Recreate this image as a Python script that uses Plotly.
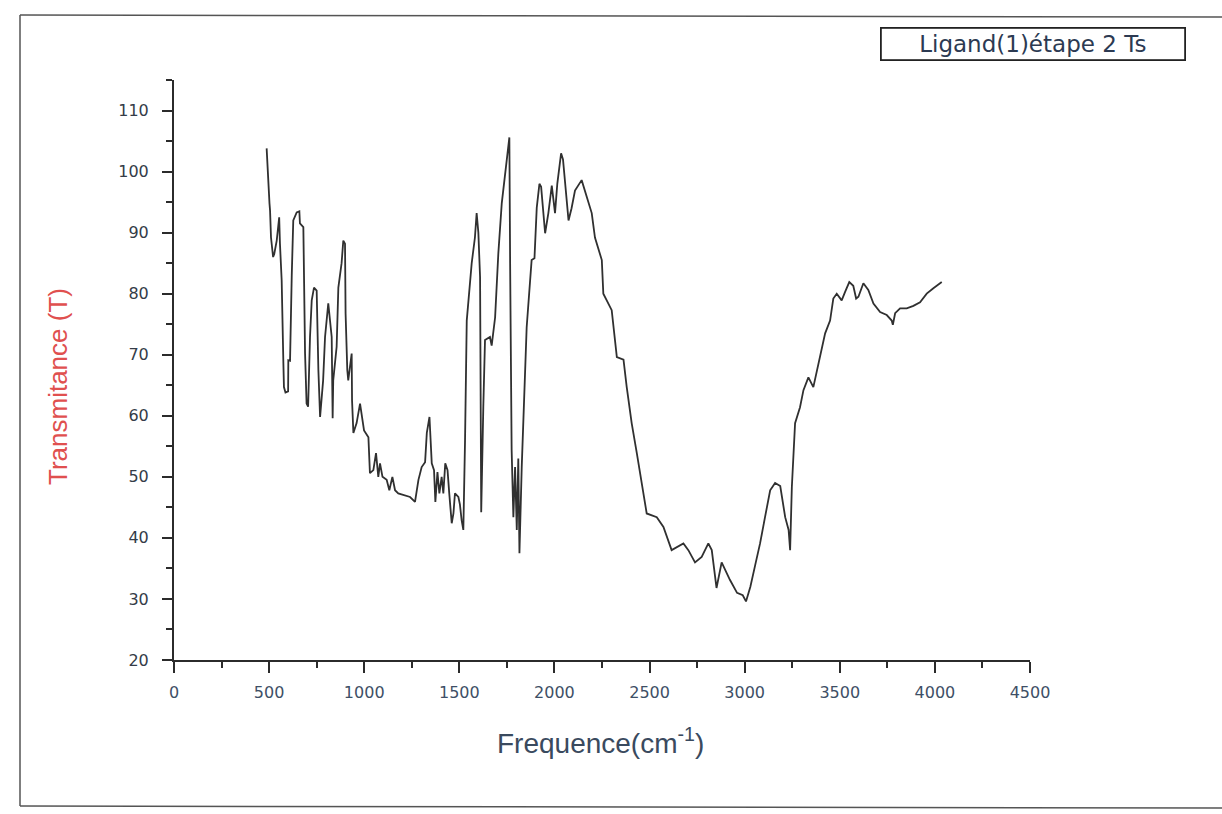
import plotly.graph_objects as go

# IR spectrum: wavenumber (cm-1) vs transmittance (%)
wavenumber = [
    487, 495, 502, 505, 510, 521, 527, 540, 553, 557, 566, 575, 578, 586, 600, 601, 610, 619, 627,
    645, 659, 662, 680, 684, 689, 697, 705, 715, 724, 736, 750, 759, 768, 784, 794, 811, 820, 829,
    834, 837, 855, 864, 881, 890, 899, 902, 911, 916, 934, 936, 943, 960, 978, 987, 999, 1022, 1025,
    1030, 1048, 1062, 1074, 1083, 1096, 1118, 1132, 1148, 1162, 1179, 1241, 1267, 1285, 1302, 1320,
    1329, 1343, 1350, 1355, 1367, 1374, 1385, 1395, 1407, 1416, 1426, 1438, 1447, 1460, 1469, 1477,
    1495, 1503, 1512, 1521, 1530, 1539, 1565, 1582, 1591, 1600, 1609, 1612, 1615, 1626, 1635, 1661,
    1670, 1688, 1705, 1723, 1740, 1749, 1763, 1767, 1771, 1775, 1784, 1793, 1802, 1810, 1816, 1828,
    1854, 1872, 1880, 1895, 1907, 1921, 1930, 1951, 1968, 1986, 2003, 2015, 2035, 2045, 2065, 2074,
    2090, 2108, 2143, 2170, 2196, 2213, 2249, 2257, 2301, 2328, 2363, 2380, 2406, 2433, 2459, 2485,
    2538, 2573, 2616, 2678, 2704, 2739, 2774, 2809, 2827, 2844, 2852, 2879, 2906, 2923, 2960, 2990,
    3007, 3030, 3055, 3081, 3107, 3134, 3160, 3187, 3213, 3231, 3239, 3244, 3248, 3265, 3291, 3309,
    3335, 3361, 3388, 3405, 3423, 3449, 3466, 3484, 3510, 3528, 3550, 3571, 3586, 3598, 3624, 3650,
    3677, 3712, 3747, 3773, 3779, 3791, 3817, 3852, 3887, 3922, 3957, 3992, 4036,
]
transmittance = [
    103.8, 97.7, 94.8, 93.6, 89.2, 86.0, 86.5, 88.7, 92.5, 88.2, 82.2, 68.6, 64.7, 63.8, 64.0, 69.1,
    69.0, 83.0, 92.0, 93.3, 93.5, 91.5, 90.9, 81.7, 70.2, 62.0, 61.5, 72.9, 78.9, 81.0, 80.5, 67.5,
    59.8, 65.8, 72.9, 78.4, 75.9, 72.9, 59.6, 65.8, 71.3, 81.0, 85.0, 88.7, 88.2, 76.8, 67.5, 65.8,
    70.2, 62.5, 57.2, 58.8, 62.0, 59.8, 57.6, 56.5, 52.2, 50.6, 51.1, 53.9, 50.0, 52.2, 50.0, 49.5,
    47.8, 50.0, 47.8, 47.3, 46.7, 45.9, 49.5, 51.6, 52.4, 57.2, 59.8, 55.5, 52.2, 51.1, 45.9, 50.8,
    47.3, 50.0, 47.3, 52.2, 51.1, 47.3, 42.4, 44.0, 47.3, 46.7, 45.5, 42.9, 41.3, 56.0, 75.6, 85.0,
    89.2, 93.2, 90.0, 82.7, 56.0, 44.2, 61.4, 72.4, 72.9, 71.5, 76.1, 86.6, 94.8, 99.0, 101.8, 105.6,
    85.0, 62.6, 54.4, 43.4, 51.6, 41.3, 53.0, 37.5, 51.6, 74.5, 82.7, 85.5, 85.8, 94.1, 98.0, 97.5,
    89.9, 93.2, 97.7, 93.2, 98.0, 103.0, 102.0, 95.8, 92.0, 94.0, 96.9, 98.6, 95.8, 93.2, 89.2, 85.5,
    80.0, 77.3, 69.6, 69.2, 64.7, 58.8, 53.9, 49.0, 44.0, 43.4, 41.8, 38.0, 39.1, 38.0, 36.0, 36.9,
    39.1, 38.0, 33.1, 31.8, 36.0, 34.2, 33.1, 31.0, 30.6, 29.6, 32.0, 35.5, 39.1, 43.4, 47.8, 49.0,
    48.5, 43.4, 41.3, 38.0, 43.0, 48.3, 58.8, 61.4, 64.2, 66.3, 64.7, 68.6, 70.7, 73.5, 75.6, 79.2,
    80.0, 78.9, 80.3, 81.9, 81.3, 79.2, 79.5, 81.7, 80.6, 78.4, 77.0, 76.5, 75.6, 74.9, 76.8, 77.6,
    77.6, 78.0, 78.6, 80.0, 80.9, 81.9,
]

x_ticks = [0, 500, 1000, 1500, 2000, 2500, 3000, 3500, 4000, 4500]
y_ticks = [20, 30, 40, 50, 60, 70, 80, 90, 100, 110]
series_name = "Ligand(1)étape 2 Ts"

axis_color = "#2b2b2b"
tick_font = "DejaVu Sans, Verdana, sans-serif"

# plot area in pixels: x 174..1030, y 80..660
L, R, T, B = 174, 1030, 80, 660
W, H = R - L, B - T


def px_to_paper(px, py):
    return (px - L) / W, (B - py) / H


fig = go.Figure()
fig.add_trace(go.Scatter(
    x=wavenumber, y=transmittance, mode="lines",
    line=dict(color="#303030", width=1.8),
    name=series_name, showlegend=False,
))

fig.update_layout(
    width=1222, height=814,
    margin=dict(l=L, r=1222 - R, t=T, b=814 - B),
    paper_bgcolor="white", plot_bgcolor="white",
    font=dict(family="Liberation Sans, Arial, sans-serif", color="#3a4656"),
    showlegend=False,
)

fig.update_xaxes(
    range=[0, 4500], tickvals=x_ticks, ticktext=[str(v) for v in x_ticks],
    showgrid=False, zeroline=False, showline=True, linecolor=axis_color, linewidth=2,
    ticks="outside", ticklen=11, tickwidth=1.8, tickcolor=axis_color,
    ticklabelstandoff=6,
    tickfont=dict(size=16, color="#3e4f66", family=tick_font),
    minor=dict(ticks="outside", dtick=250, tick0=0, ticklen=6, tickwidth=1.8, tickcolor=axis_color),
)
fig.update_yaxes(
    range=[20, 115], tickvals=y_ticks, ticktext=[str(v) for v in y_ticks],
    showgrid=False, zeroline=False, showline=True, linecolor=axis_color, linewidth=2,
    ticks="outside", ticklen=10, tickwidth=1.8, tickcolor=axis_color,
    ticklabelstandoff=10,
    tickfont=dict(size=16, color="#343c48", family=tick_font),
    minor=dict(ticks="outside", dtick=5, tick0=0, ticklen=6, tickwidth=1.8, tickcolor=axis_color),
)

# Axis titles
tx, ty = px_to_paper(600, 741)
fig.add_annotation(
    text="Frequence(cm<sup>-1</sup>)", xref="paper", yref="paper",
    x=tx, y=ty, xanchor="center", yanchor="middle", showarrow=False,
    font=dict(size=28, color="#3a4a5e"),
)
tx, ty = px_to_paper(58, 387)
fig.add_annotation(
    text="Transmitance (T)", xref="paper", yref="paper",
    x=tx, y=ty, xanchor="center", yanchor="middle", textangle=-90, showarrow=False,
    font=dict(size=26, color="#e0504f"),
)

# Series label box
tx, ty = px_to_paper(1033, 44)
fig.add_annotation(
    text=series_name, xref="paper", yref="paper",
    x=tx, y=ty, xanchor="center", yanchor="middle", showarrow=False,
    width=300, height=28, align="center",
    font=dict(size=23, color="#2c3a52", family=tick_font),
    bordercolor="#222222", borderwidth=1.8, borderpad=1, bgcolor="white",
)

# Outer page frame
frame = dict(type="line", xref="paper", yref="paper", line=dict(color="#555555", width=1.5))
x_left, y_top = px_to_paper(20, 15)
x_right, y_top_r = px_to_paper(1222, 17)
_, y_bot = px_to_paper(20, 806)
_, y_bot_r = px_to_paper(1222, 808)
fig.add_shape(**frame, x0=x_left, x1=x_right, y0=y_top, y1=y_top_r)
fig.add_shape(**frame, x0=x_left, x1=x_left, y0=y_top, y1=y_bot)
fig.add_shape(**frame, x0=x_left, x1=x_right, y0=y_bot, y1=y_bot_r)

fig.write_html("out.html")
